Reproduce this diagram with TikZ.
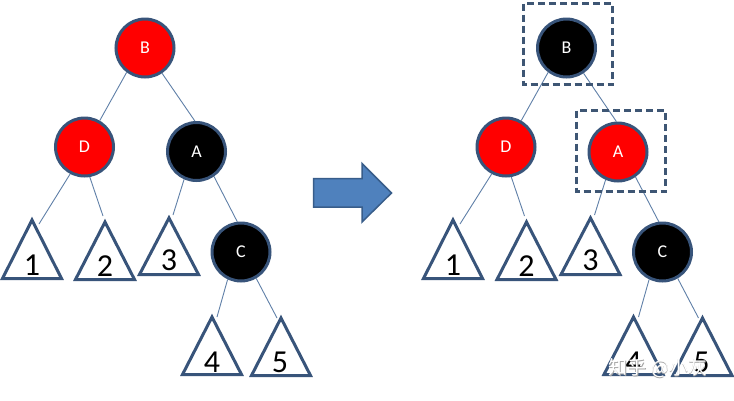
\documentclass[tikz,border=0pt]{standalone}
\usepackage{fontspec}
\setmainfont{Carlito}
\newfontfamily\cjk{Noto Sans CJK SC}
\definecolor{outl}{RGB}{56,84,122}
\definecolor{edgec}{RGB}{96,128,168}
\definecolor{redf}{RGB}{255,0,0}
\definecolor{arrowf}{RGB}{79,129,189}
\definecolor{arrowd}{RGB}{56,93,138}
\definecolor{dashc}{RGB}{62,86,116}
\begin{document}
\begin{tikzpicture}[x=1pt,y=-1pt,
  rbnode/.style={circle,draw=outl,line width=3pt,minimum size=58pt,inner sep=0pt,text=white,font=\fontsize{18}{18}\selectfont},
  rednode/.style={rbnode,fill=redf},
  blacknode/.style={rbnode,fill=black},
  subtree/.style={draw=outl,line width=3pt,fill=white},
  treelabel/.style={font=\fontsize{32}{32}\selectfont,text=black,inner sep=0pt},
  link/.style={draw=edgec,line width=0.9pt},
  dashbox/.style={draw=dashc,line width=3pt,dash pattern=on 7pt off 4pt},
  bigarrow/.style={fill=arrowf,draw=arrowd,line width=1.5pt,line join=miter}]
\useasboundingbox (0,0) rectangle (734,400);
\fill[white] (0,0) rectangle (734,400);

% ---------- subtrees (triangles) ----------
\newcommand{\subtri}[5]{% prefix, apex x, apex y, base y, label
  \draw[subtree] (#2,#3+3) -- (#2+29.5,#4-1.5) -- (#2-29.5,#4-1.5) -- cycle;
}
% left
\subtri{l1}{32}{217}{280}{1}
\subtri{l2}{105}{219}{281}{2}
\subtri{l3}{169}{215}{276}{3}
\subtri{l4}{212}{314}{376}{4}
\subtri{l5}{281}{315}{377}{5}
% right
\subtri{r1}{453}{217}{280}{1}
\subtri{r2}{526.5}{219}{281}{2}
\subtri{r3}{590.5}{215}{276}{3}
\subtri{r4}{633.5}{314}{376}{4}
\subtri{r5}{702.5}{315}{377}{5}

\node[treelabel] (lt1) at (32,265) {1};
\node[treelabel] (lt2) at (105,266) {2};
\node[treelabel] (lt3) at (169,260) {3};
\node[treelabel] (lt4) at (212,362) {4};
\node[treelabel] (lt5) at (280,362) {5};
\node[treelabel] (rt1) at (453,265) {1};
\node[treelabel] (rt2) at (526.5,266) {2};
\node[treelabel] (rt3) at (590.5,260) {3};
\node[treelabel] (rt4) at (633.5,362) {4};
\node[treelabel] (rt5) at (701.5,362) {5};

% ---------- connector end points on subtrees ----------
\coordinate (le1) at (39,224);
\coordinate (le2) at (103,216);
\coordinate (le3) at (173,215);
\coordinate (le4) at (217,317);
\coordinate (le5) at (277,318);
\coordinate (re1) at (460,224);
\coordinate (re2) at (524.5,216);
\coordinate (re3) at (594.5,215);
\coordinate (re4) at (638.5,317);
\coordinate (re5) at (698.5,318);

% ---------- left tree ----------
\node[rednode]   (lB) at (145,48)    {B};
\node[rednode]   (lD) at (84.5,147)  {D};
\node[blacknode] (lA) at (196.5,151.5) {A};
\node[blacknode] (lC) at (241,252)   {C};

\draw[link] (lB.-127) -- (lD.60);
\draw[link] (lB.-56) -- (lA.93);
\draw[link] (lD.-118) -- (le1);
\draw[link] (lD.-80) -- (le2);
\draw[link] (lA.-114) -- (le3);
\draw[link] (lA.-55) -- (lC.97);
\draw[link] (lC.-116) -- (le4);
\draw[link] (lC.-60) -- (le5);

% ---------- right tree ----------
\node[blacknode] (rB) at (566.5,48)  {B};
\node[rednode]   (rD) at (506,147)   {D};
\node[rednode]   (rA) at (618,152)   {A};
\node[blacknode] (rC) at (662.5,252) {C};

\draw[link] (rB.-127) -- (rD.60);
\draw[link] (rB.-56) -- (rA.93);
\draw[link] (rD.-118) -- (re1);
\draw[link] (rD.-80) -- (re2);
\draw[link] (rA.-114) -- (re3);
\draw[link] (rA.-55) -- (rC.97);
\draw[link] (rC.-116) -- (re4);
\draw[link] (rC.-60) -- (re5);

% ---------- dashed boxes ----------
\draw[dashbox] (523.5,3.5) rectangle (612.5,84.5);
\draw[dashbox] (576.5,110.5) rectangle (665.5,191.5);

% ---------- big arrow ----------
\draw[bigarrow] (313.5,178.5) -- (362,178.5) -- (362,163.5) -- (391.5,193) -- (362,222) -- (362,207) -- (313.5,207) -- cycle;

% ---------- watermark ----------
\node[text=gray!70,font=\cjk\fontsize{19}{19}\selectfont,inner sep=0pt] (wms) at (658.8,368.8) {知乎 @小灰};
\node[text=white,font=\cjk\fontsize{19}{19}\selectfont,inner sep=0pt] (wm) at (658,368) {知乎 @小灰};
\end{tikzpicture}
\end{document}
